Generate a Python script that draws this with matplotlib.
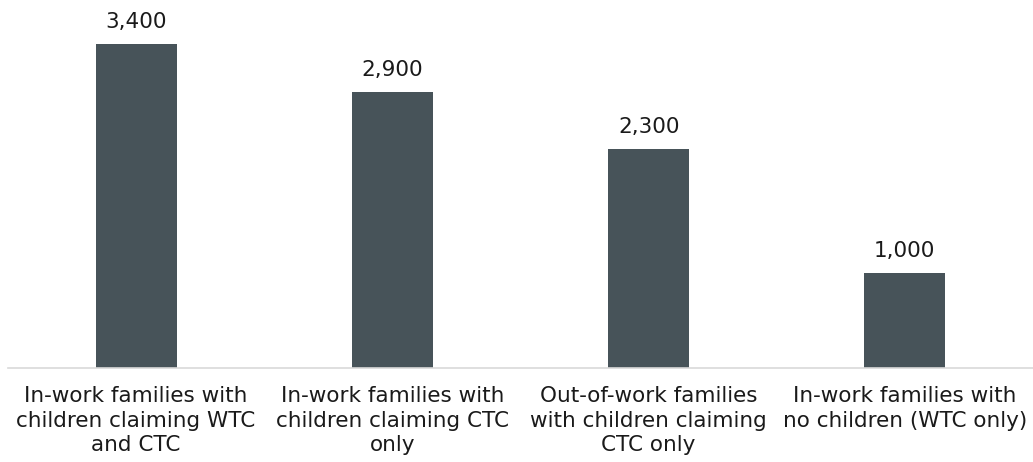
import matplotlib.pyplot as plt

# chart data
categories = ['In-work families with\nchildren claiming WTC\nand CTC',
              'In-work families with\nchildren claiming CTC\nonly',
              'Out-of-work families\nwith children claiming\nCTC only',
              'In-work families with\nno children (WTC only)']
values = [3400, 2900, 2300, 1000]

bar_color = '#475359'

fig = plt.figure(figsize=(10.33, 4.62), dpi=100)
ax = fig.add_axes([8 / 1033, 94 / 462, 1025 / 1033, 368 / 462])

x = range(len(values))
ax.bar(x, values, width=0.316, color=bar_color)

for i, v in zip(x, values):
    ax.annotate(f'{v:,}', (i, v), xytext=(0, 11.5), textcoords='offset points',
                ha='center', va='baseline', fontsize=15.5, color='#1a1a1a')

ax.set_xlim(-0.5, len(values) - 0.5)
ax.set_ylim(0, 3862)
ax.set_xticks(list(x))
ax.set_xticklabels(categories, fontsize=15.5, color='#1a1a1a', linespacing=1.28)
ax.tick_params(axis='x', length=0, pad=13)
ax.set_yticks([])

for side in ['top', 'left', 'right']:
    ax.spines[side].set_visible(False)
ax.spines['bottom'].set_color('#d9d9d9')
ax.spines['bottom'].set_linewidth(1.2)

fig.savefig('out.png', dpi=100)
